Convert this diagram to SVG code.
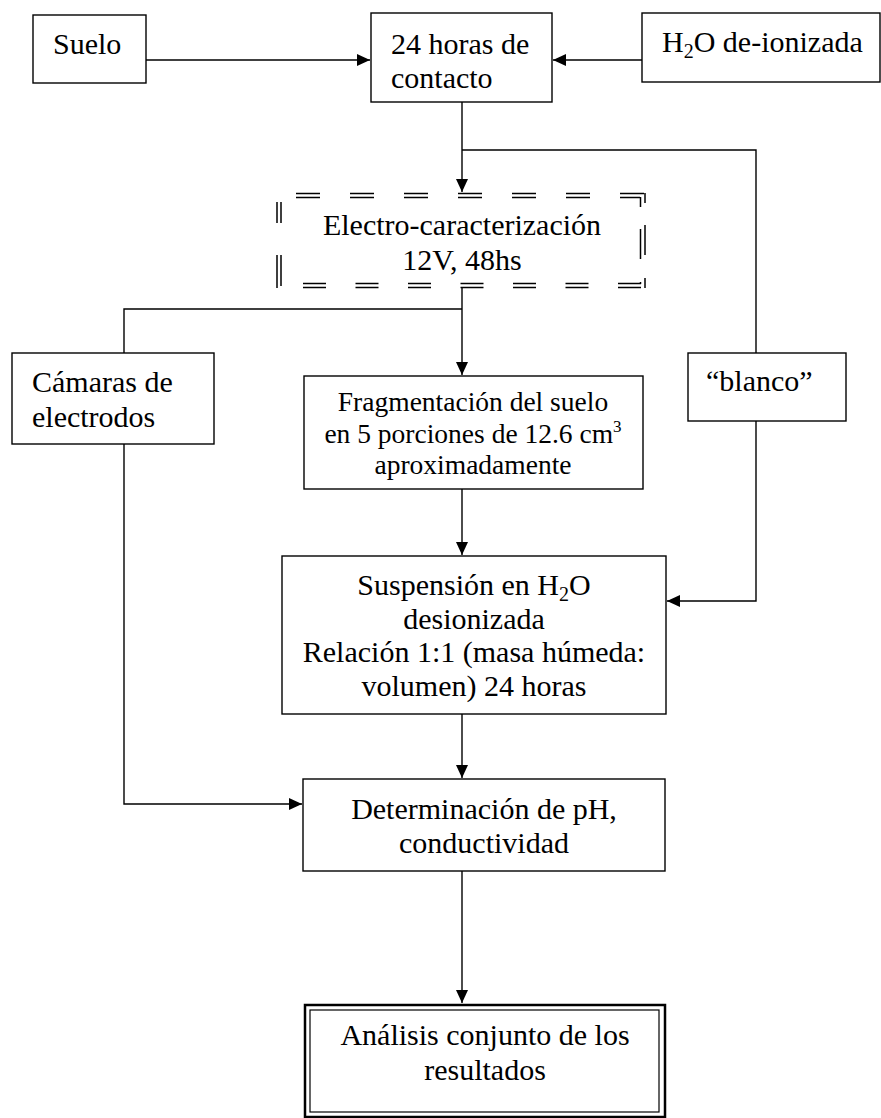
<svg xmlns="http://www.w3.org/2000/svg" width="881" height="1118" viewBox="0 0 881 1118">
<style>
.box{fill:#fff;stroke:#000;stroke-width:1.4}
.t{font-family:"Liberation Serif","Times New Roman",serif;font-size:30px;fill:#000}
.s{font-size:27.5px}
.c{text-anchor:middle}
.ln{fill:none;stroke:#000;stroke-width:1.4}
.dash{fill:none;stroke:#000;stroke-width:1.5}
</style>
<defs>
<marker id="ah" markerUnits="userSpaceOnUse" markerWidth="13" markerHeight="12" refX="13" refY="6" orient="auto">
<path d="M0,0 L13,6 L0,12 z" fill="#000"/>
</marker>
</defs>
<rect width="881" height="1118" fill="#fff"/>
<g id="connectors">
<path class="ln" d="M146,60 H370" marker-end="url(#ah)"/>
<path class="ln" d="M642,60 H553" marker-end="url(#ah)"/>
<path class="ln" d="M462,102 V192" marker-end="url(#ah)"/>
<path class="ln" d="M462,150 H756 V353"/>
<path class="ln" d="M462,288 V375" marker-end="url(#ah)"/>
<path class="ln" d="M462,309 H124 V353"/>
<path class="ln" d="M124,444 V804 H302" marker-end="url(#ah)"/>
<path class="ln" d="M756,421 V601 H667" marker-end="url(#ah)"/>
<path class="ln" d="M462,489 V555" marker-end="url(#ah)"/>
<path class="ln" d="M462,714 V778" marker-end="url(#ah)"/>
<path class="ln" d="M462,871 V1003" marker-end="url(#ah)"/>
</g>
<g id="suelo">
<rect class="box" x="33" y="15" width="113" height="68"/>
<text class="t" x="53" y="54">Suelo</text>
</g>
<g id="contacto">
<rect class="box" x="371" y="13" width="181" height="89"/>
<text class="t" x="391" y="54">24 horas de</text>
<text class="t" x="391" y="88">contacto</text>
</g>
<g id="agua">
<rect class="box" x="642" y="13" width="238" height="69"/>
<text class="t" x="662" y="52">H<tspan font-size="20" dy="6">2</tspan><tspan dy="-6">O de-ionizada</tspan></text>
</g>
<g id="electro">
<path class="dash" d="M296,193.5 H644 M296,197.5 H640" stroke-dasharray="24 30"/>
<path class="dash" d="M303,287.5 H645 M303,283.5 H641" stroke-dasharray="23 29.5"/>
<path class="dash" d="M277,202 V288 M281,202 V286" stroke-dasharray="21 32 33 10"/>
<path class="dash" d="M645,193 V288 M640.5,197 V284" stroke-dasharray="10 22 30 23 10"/>
<text class="t c" x="462" y="235">Electro-caracterización</text>
<text class="t c" x="462" y="270">12V, 48hs</text>
</g>
<g id="camaras">
<rect class="box" x="12" y="353" width="202" height="91"/>
<text class="t" x="32" y="392">Cámaras de</text>
<text class="t" x="32" y="427">electrodos</text>
</g>
<g id="fragmentacion">
<rect class="box" x="304" y="376" width="339" height="113"/>
<text class="t s c" x="473" y="411">Fragmentación del suelo</text>
<text class="t s c" x="473" y="443">en 5 porciones de 12.6 cm<tspan font-size="17" dy="-11">3</tspan></text>
<text class="t s c" x="473" y="474">aproximadamente</text>
</g>
<g id="blanco">
<rect class="box" x="688" y="353" width="158" height="68"/>
<text class="t" x="706" y="391">“blanco”</text>
</g>
<g id="suspension">
<rect class="box" x="282" y="556" width="384" height="158"/>
<text class="t c" x="474" y="595">Suspensión en H<tspan font-size="20" dy="6">2</tspan><tspan dy="-6">O</tspan></text>
<text class="t c" x="474" y="629">desionizada</text>
<text class="t c" x="474" y="662">Relación 1:1 (masa húmeda:</text>
<text class="t c" x="474" y="696">volumen) 24 horas</text>
</g>
<g id="determinacion">
<rect class="box" x="303" y="779" width="362" height="92"/>
<text class="t c" x="484" y="819">Determinación de pH,</text>
<text class="t c" x="484" y="853">conductividad</text>
</g>
<g id="analisis">
<rect x="305" y="1005" width="360" height="112" fill="#fff" stroke="#000" stroke-width="2.5"/>
<rect x="310" y="1010" width="349" height="102" fill="none" stroke="#000" stroke-width="1.2"/>
<text class="t c" x="485" y="1045">Análisis conjunto de los</text>
<text class="t c" x="485" y="1080">resultados</text>
</g>
</svg>
